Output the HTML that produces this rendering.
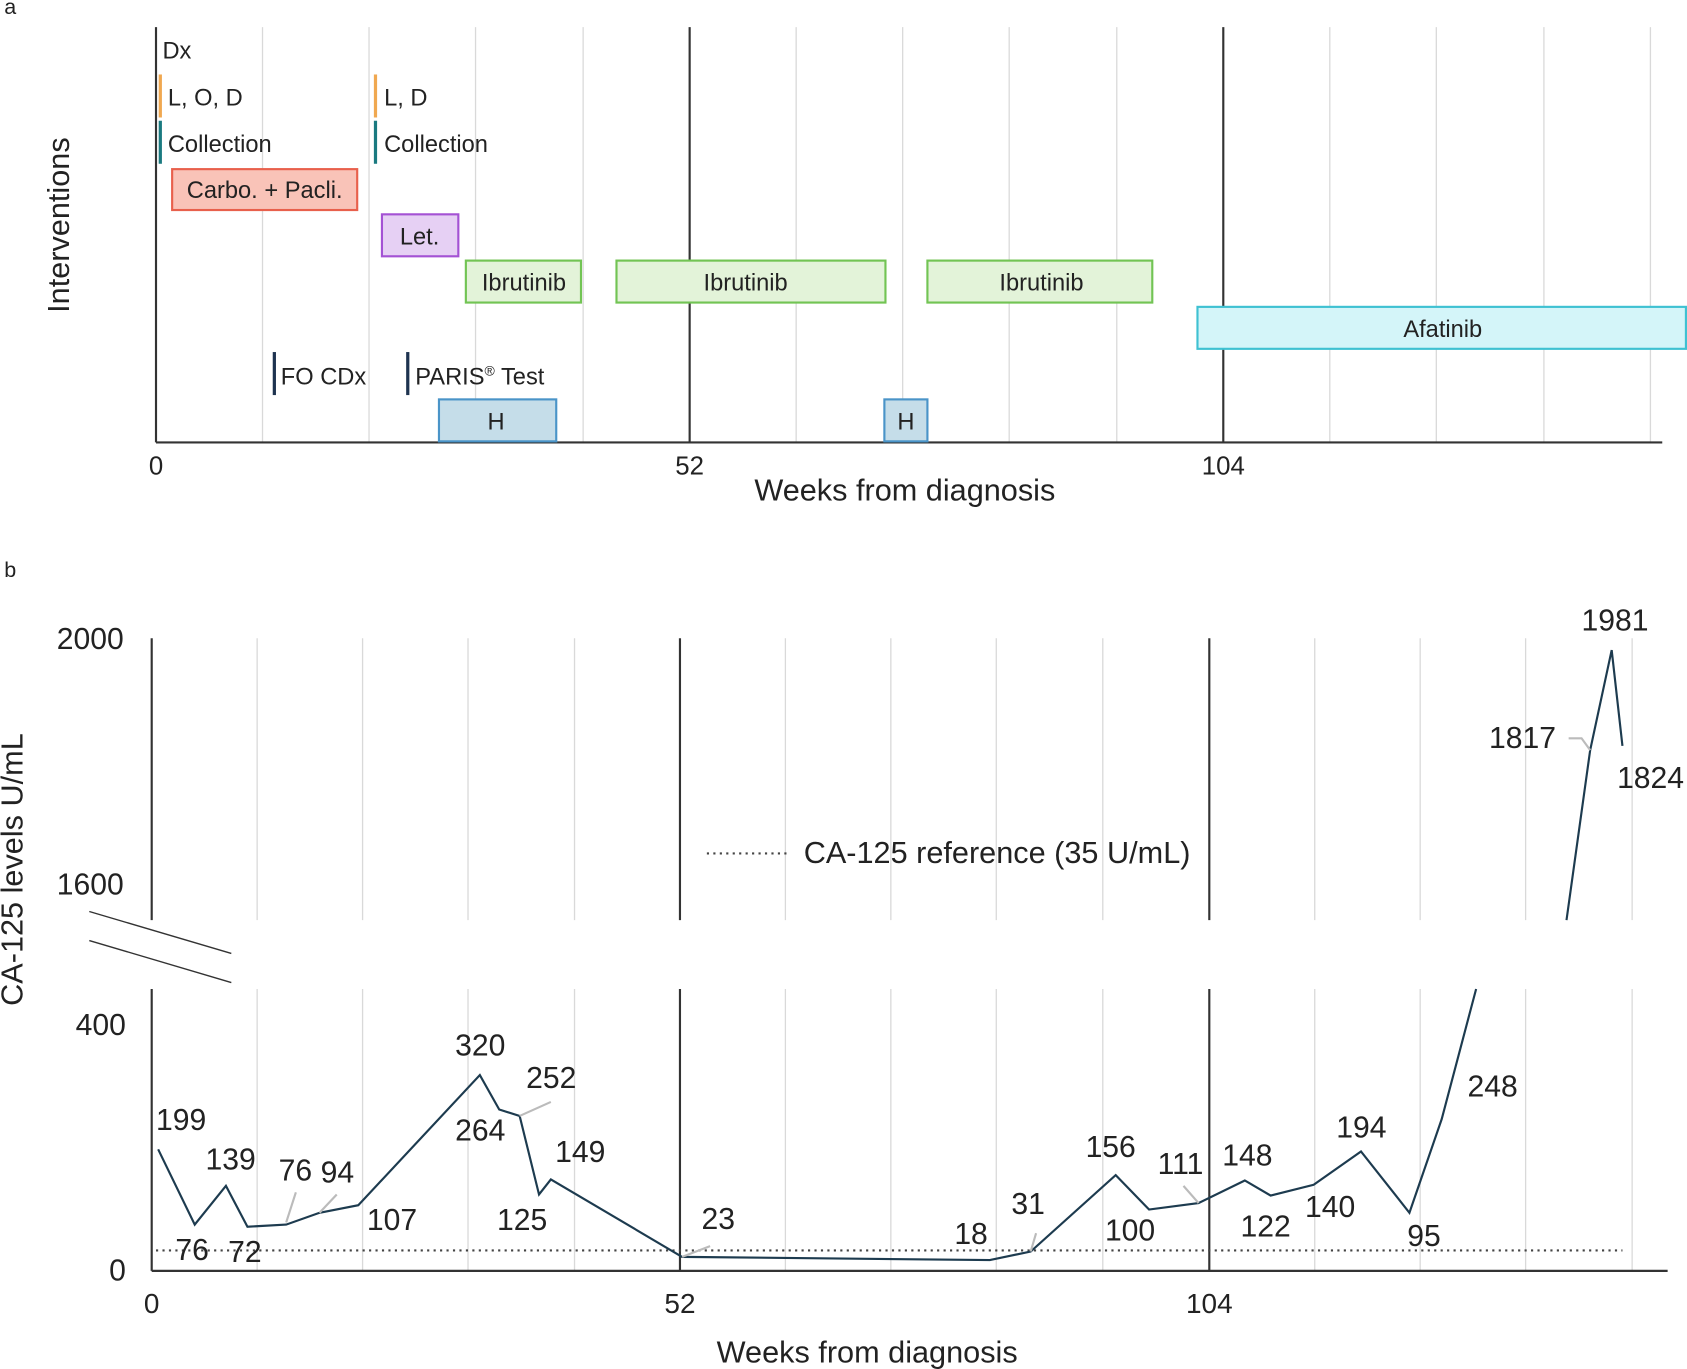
<!DOCTYPE html><html><head><style>body{margin:0;background:#fff}svg{display:block}text{font-family:"Liberation Sans",Arial,sans-serif;fill:#222}</style></head><body>
<svg width="1687" height="1369" viewBox="0 0 1568 1272" xmlns="http://www.w3.org/2000/svg">
<text x="4" y="13" font-size="20">a</text>
<text x="4" y="536" font-size="20">b</text>
<g stroke="#d9d9d9" stroke-width="1.2">
<line x1="244" y1="25" x2="244" y2="411"/><line x1="343" y1="25" x2="343" y2="411"/><line x1="442" y1="25" x2="442" y2="411"/><line x1="542" y1="25" x2="542" y2="411"/><line x1="740" y1="25" x2="740" y2="411"/><line x1="839" y1="25" x2="839" y2="411"/><line x1="938" y1="25" x2="938" y2="411"/><line x1="1038" y1="25" x2="1038" y2="411"/><line x1="1236" y1="25" x2="1236" y2="411"/><line x1="1335" y1="25" x2="1335" y2="411"/><line x1="1435" y1="25" x2="1435" y2="411"/><line x1="1534" y1="25" x2="1534" y2="411"/>
</g>
<g stroke="#333" stroke-width="2"><line x1="641" y1="25" x2="641" y2="411"/><line x1="1137" y1="25" x2="1137" y2="411"/><line x1="145" y1="25" x2="145" y2="411"/><line x1="145" y1="411" x2="1545" y2="411"/></g>
<rect x="160" y="157" width="172" height="38" fill="#f9c3b8" stroke="#e8604c" stroke-width="2"/>
<rect x="355" y="199" width="71" height="39" fill="#e6d0f4" stroke="#a452d4" stroke-width="2"/>
<g fill="#e3f3d9" stroke="#72c454" stroke-width="2"><rect x="433" y="242" width="107" height="39"/><rect x="573" y="242" width="250" height="39"/><rect x="862" y="242" width="209" height="39"/></g>
<rect x="1113" y="285" width="454" height="39" fill="#d4f5f9" stroke="#3fc1d2" stroke-width="2"/>
<g fill="#c5dde9" stroke="#4a94c8" stroke-width="2"><rect x="408" y="371" width="109" height="39"/><rect x="822" y="371" width="40" height="39"/></g>
<g stroke-width="3"><line x1="149" y1="69" x2="149" y2="109" stroke="#f0a850"/><line x1="349" y1="69" x2="349" y2="109" stroke="#f0a850"/><line x1="149" y1="112" x2="149" y2="152" stroke="#1a7a80"/><line x1="349" y1="112" x2="349" y2="152" stroke="#1a7a80"/><line x1="255" y1="327" x2="255" y2="367" stroke="#1e3350"/><line x1="379" y1="327" x2="379" y2="367" stroke="#1e3350"/></g>
<g font-size="22"><text x="151" y="54">Dx</text><text x="156" y="98">L, O, D</text><text x="357" y="98">L, D</text><text x="156" y="141">Collection</text><text x="357" y="141">Collection</text>
<text x="246" y="184" text-anchor="middle">Carbo. + Pacli.</text><text x="390" y="227" text-anchor="middle">Let.</text>
<text x="487" y="270" text-anchor="middle">Ibrutinib</text><text x="693" y="270" text-anchor="middle">Ibrutinib</text><text x="968" y="270" text-anchor="middle">Ibrutinib</text><text x="1341" y="313" text-anchor="middle">Afatinib</text>
<text x="261" y="357">FO CDx</text><text x="386" y="357">PARIS<tspan font-size="13" dy="-8">®</tspan><tspan dy="8"> Test</tspan></text>
<text x="461" y="399" text-anchor="middle">H</text><text x="842" y="399" text-anchor="middle">H</text></g>
<g font-size="24"><text x="145" y="441" text-anchor="middle">0</text><text x="641" y="441" text-anchor="middle">52</text><text x="1137" y="441" text-anchor="middle">104</text></g>
<text x="841" y="465" font-size="28.5" text-anchor="middle">Weeks from diagnosis</text>
<text x="64" y="209" font-size="28.5" text-anchor="middle" transform="rotate(-90 64 209)">Interventions</text>
<g stroke="#d9d9d9" stroke-width="1.2">
<path d="M239 593V855M337 593V855M435 593V855M534 593V855M730 593V855M828 593V855M926 593V855M1025 593V855M1222 593V855M1320 593V855M1418 593V855M1517 593V855"/>
<path d="M239 919V1181M337 919V1181M435 919V1181M534 919V1181M730 919V1181M828 919V1181M926 919V1181M1025 919V1181M1222 919V1181M1320 919V1181M1418 919V1181M1517 919V1181"/>
</g>
<g stroke="#333" stroke-width="2"><path d="M141 593V855M632 593V855M1124 593V855M141 919V1181M632 919V1181M1124 919V1181M141 1181H1550"/></g>
<g stroke="#333" stroke-width="1.3"><line x1="83" y1="847" x2="215" y2="886"/><line x1="83" y1="874" x2="215" y2="913"/></g>
<line x1="145" y1="1162" x2="1508" y2="1162" stroke="#444" stroke-width="2" stroke-dasharray="2,4"/>
<line x1="657" y1="793" x2="735" y2="793" stroke="#444" stroke-width="2" stroke-dasharray="2,4"/>
<text x="747" y="802" font-size="28.5">CA-125 reference (35 U/mL)</text>
<polyline fill="none" stroke="#1d3b4f" stroke-width="2" points="147,1068 181,1138 210,1102 230,1140 266,1138 297,1127 333,1120 446,999 464,1031 483,1037 501,1110 512,1096 634,1168 920,1171 958,1163 1037,1092 1068,1124 1114,1118 1157,1097 1181,1111 1221,1101 1265,1070 1310,1127 1340,1040 1372,919"/>
<polyline fill="none" stroke="#1d3b4f" stroke-width="2" points="1456,855 1478,697 1498,604 1508,693"/>
<g stroke="#bbb" stroke-width="2" fill="none"><path d="M266 1136L275 1108M297 1127L313 1110M483 1037L512 1024M634 1168L660 1158M958 1163L963 1146M1114 1118L1100 1102M1478 697L1470 686H1458"/></g>
<g font-size="28"><text x="115" y="603" text-anchor="end">2000</text><text x="115" y="831" text-anchor="end">1600</text><text x="117" y="962" text-anchor="end">400</text><text x="117" y="1190" text-anchor="end">0</text></g>
<g font-size="26"><text x="141" y="1220" text-anchor="middle">0</text><text x="632" y="1220" text-anchor="middle">52</text><text x="1124" y="1220" text-anchor="middle">104</text></g>
<g font-size="28"><text x="145" y="1050">199</text><text x="163" y="1171">76</text><text x="191" y="1087">139</text><text x="212" y="1173">72</text><text x="259" y="1097">76</text><text x="298" y="1099">94</text><text x="341" y="1143">107</text><text x="423" y="981">320</text><text x="423" y="1060">264</text><text x="489" y="1011">252</text><text x="462" y="1143">125</text><text x="516" y="1080">149</text><text x="652" y="1142">23</text><text x="887" y="1156">18</text><text x="940" y="1128">31</text><text x="1009" y="1075">156</text><text x="1027" y="1153">100</text><text x="1076" y="1091">111</text><text x="1136" y="1083">148</text><text x="1153" y="1149">122</text><text x="1213" y="1131">140</text><text x="1242" y="1057">194</text><text x="1308" y="1158">95</text><text x="1364" y="1019">248</text><text x="1470" y="586">1981</text><text x="1384" y="695">1817</text><text x="1503" y="732">1824</text></g>
<text x="806" y="1266" font-size="28.5" text-anchor="middle">Weeks from diagnosis</text>
<text x="21" y="808" font-size="28.5" text-anchor="middle" transform="rotate(-90 21 808)">CA-125 levels U/mL</text>
</svg></body></html>
